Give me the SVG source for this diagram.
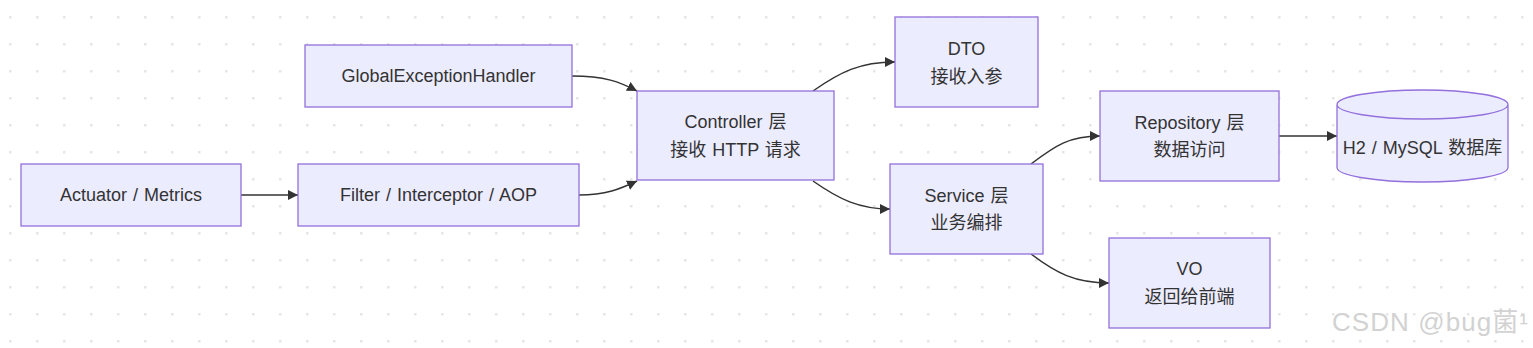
<svg xmlns="http://www.w3.org/2000/svg" width="1533" height="348" viewBox="0 0 1533 348">
<style>
.node rect, .node path { fill: #ECECFF; stroke: #9370DB; stroke-width: 1.3; }
.node text { font-family: "Liberation Sans", "Noto Sans CJK SC", sans-serif; font-size: 18px; fill: #333; text-anchor: middle; dominant-baseline: central; word-spacing: 1px; }
.edge { fill: none; stroke: #333; stroke-width: 1.5; marker-end: url(#arrow); }
.wm { font-family: "Liberation Sans", "Noto Sans CJK SC", sans-serif; font-size: 26px; fill: #d2d2d2; }
</style>
<defs>
<pattern id="grid" x="0" y="0" width="27" height="27" patternUnits="userSpaceOnUse">
<rect x="9" y="16" width="2.5" height="2.5" fill="#e6e6e6"/>
</pattern>
<marker id="arrow" viewBox="0 0 10 10" refX="10" refY="5" markerUnits="userSpaceOnUse" markerWidth="10" markerHeight="10" orient="auto">
<path d="M0,0 L10,5 L0,10 z" fill="#333"/>
</marker>
</defs>
<rect width="1533" height="348" fill="#ffffff"/>
<rect width="1533" height="348" fill="url(#grid)"/>

<g id="connectors">
<path class="edge" d="M241,195 L298,195"/>
<path class="edge" d="M579,195 C606,195 620,189 637,181"/>
<path class="edge" d="M572,76 C605,76 620,82 637,91"/>
<path class="edge" d="M813,91 C840,72 860,62 895,62"/>
<path class="edge" d="M813,181 C840,200 860,209 890,209"/>
<path class="edge" d="M1031,164 C1056,145 1070,136 1100,136"/>
<path class="edge" d="M1031,254 C1056,273 1075,283 1109,283"/>
<path class="edge" d="M1279,136 L1337,136"/>
</g>

<g id="node-geh" class="node">
<rect x="305" y="45" width="267" height="62"/>
<text x="438.5" y="76">GlobalExceptionHandler</text>
</g>
<g id="node-actuator" class="node">
<rect x="21" y="164" width="220" height="62"/>
<text x="131" y="195">Actuator / Metrics</text>
</g>
<g id="node-filter" class="node">
<rect x="298" y="164" width="281" height="62"/>
<text x="438.5" y="195">Filter / Interceptor / AOP</text>
</g>
<g id="node-controller" class="node">
<rect x="637" y="91" width="197" height="89"/>
<text x="735.5" y="122">Controller 层</text>
<text x="735.5" y="150">接收 HTTP 请求</text>
</g>
<g id="node-dto" class="node">
<rect x="895" y="17" width="143" height="90"/>
<text x="966.5" y="48.5">DTO</text>
<text x="966.5" y="76.5">接收入参</text>
</g>
<g id="node-service" class="node">
<rect x="890" y="164" width="153" height="90"/>
<text x="966.5" y="195.5">Service 层</text>
<text x="966.5" y="223">业务编排</text>
</g>
<g id="node-repository" class="node">
<rect x="1100" y="91" width="179" height="90"/>
<text x="1189.5" y="122.5">Repository 层</text>
<text x="1189.5" y="150">数据访问</text>
</g>
<g id="node-vo" class="node">
<rect x="1109" y="238" width="161" height="90"/>
<text x="1189.5" y="269">VO</text>
<text x="1189.5" y="297">返回给前端</text>
</g>
<g id="node-db" class="node">
<path d="M1337,104.5 a85.5,14.5 0 0,0 171,0 a85.5,14.5 0 0,0 -171,0 l0,63 a85.5,14.5 0 0,0 171,0 l0,-63"/>
<text x="1422.5" y="148">H2 / MySQL 数据库</text>
</g>

<text class="wm" x="1332" y="331" textLength="196" lengthAdjust="spacing">CSDN @bug菌¹</text>
</svg>
